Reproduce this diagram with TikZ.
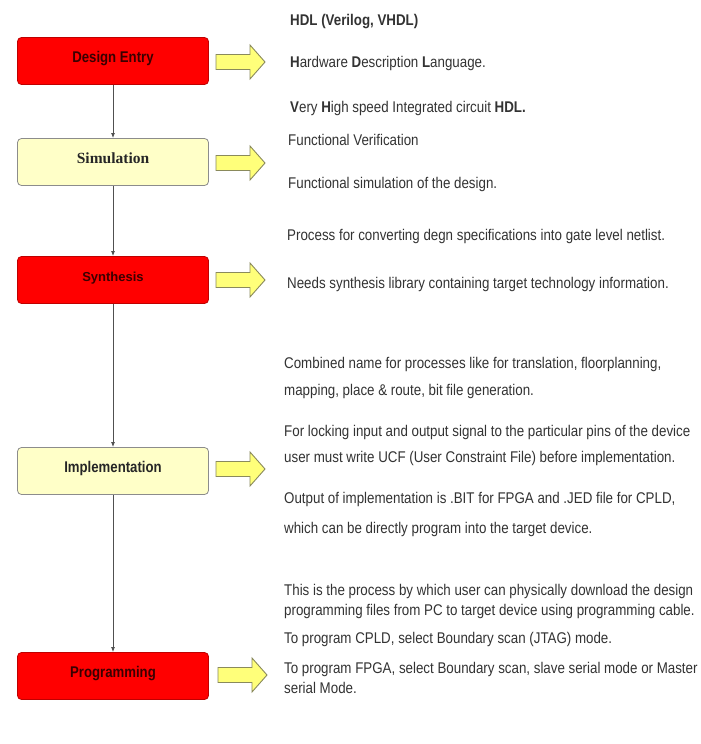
\documentclass[tikz,border=0pt]{standalone}
\usepackage{fontspec}
\setmainfont{Liberation Sans}
\newfontfamily\descfont[FakeStretch=0.86]{Liberation Sans}
\newfontfamily\boxfont[FakeStretch=0.85]{Liberation Sans}
\newfontfamily\serbox{Liberation Serif}
\usetikzlibrary{arrows.meta}
\definecolor{stagered}{HTML}{FF0000}
\definecolor{stagecream}{HTML}{FFFFC8}
\definecolor{arrowfill}{HTML}{FFFF7A}
\definecolor{arrowedge}{HTML}{8A8A5C}
\definecolor{labeldark}{HTML}{3A0000}
\definecolor{linkgrey}{HTML}{505050}
\tikzset{
  stage/.style={rounded corners=4pt, minimum width=191pt, minimum height=47pt,
    inner sep=0pt, text height=11pt, text depth=9pt, line width=0.8pt},
  hotstage/.style={stage, fill=stagered, draw=red!75!black, text=labeldark,
    font=\boxfont\bfseries\fontsize{15.5}{17}\selectfont},
  calmstage/.style={stage, fill=stagecream, draw=black!45, text=black!85,
    font=\boxfont\bfseries\fontsize{15.5}{17}\selectfont},
  link/.style={draw=linkgrey, line width=0.9pt, -{Latex[length=5pt,width=4pt]}},
  blockarrow/.style={fill=arrowfill, draw=arrowedge, line width=0.9pt, line join=miter},
  note/.style={anchor=base west, inner sep=0pt, text=black!80,
    font=\descfont\fontsize{15.5}{17}\selectfont},
}
\newcommand{\fatarrow}[2]{%
  \draw[blockarrow, shift={(#1,#2)}]
    (0,-7.5) -- (34,-7.5) -- (34,-17) -- (49,0) -- (34,17) -- (34,7.5) -- (0,7.5) -- cycle;}
\begin{document}
\begin{tikzpicture}[x=1pt, y=-1pt]
  \useasboundingbox (0,0) rectangle (701,744);
  \fill[white] (0,0) rectangle (701,744);

  % process stages
  \node[hotstage]  (entry) at (113,61)  {Design Entry};
  \node[calmstage, font=\serbox\bfseries\fontsize{15.5}{17}\selectfont] (sim) at (113,162) {Simulation};
  \node[hotstage, font=\bfseries\fontsize{13}{15}\selectfont] (synth) at (113,280) {Synthesis};
  \node[calmstage] (impl)  at (113,471) {Implementation};
  \node[hotstage]  (prog)  at (113,676) {Programming};

  % flow between stages
  \draw[link] (entry.south) -- (sim.north);
  \draw[link] (sim.south) -- (synth.north);
  \draw[link] (synth.south) -- (impl.north);
  \draw[link] (impl.south) -- (prog.north);

  % pointers to the descriptions
  \fatarrow{216}{62}
  \fatarrow{216}{163}
  \fatarrow{216}{280}
  \fatarrow{216}{469}
  \fatarrow{218}{675}

  % descriptions
  \node[note] (t1)  at (290,25)  {\bfseries HDL (Verilog, VHDL)};
  \node[note] (t2)  at (290,67)  {\textbf{H}ardware \textbf{D}escription \textbf{L}anguage.};
  \node[note] (t3)  at (290,112) {\textbf{V}ery \textbf{H}igh speed Integrated circuit \textbf{HDL.}};
  \node[note] (t4)  at (288,145) {Functional Verification};
  \node[note] (t5)  at (288,188) {Functional simulation of the design.};
  \node[note] (t6)  at (287,240) {Process for converting degn specifications into gate level netlist.};
  \node[note] (t7)  at (287,288) {Needs synthesis library containing target technology information.};
  \node[note] (t8)  at (284,368) {Combined name for processes like for translation, floorplanning,};
  \node[note] (t9)  at (284,395) {mapping, place \& route, bit file generation.};
  \node[note] (t10) at (284,436) {For locking input and output signal to the particular pins of the device};
  \node[note] (t11) at (284,462) {user must write UCF (User Constraint File) before implementation.};
  \node[note] (t12) at (284,503) {Output of implementation is .BIT for FPGA and .JED file for CPLD,};
  \node[note] (t13) at (284,533) {which can be directly program into the target device.};
  \node[note] (t14) at (284,595) {This is the process by which user can physically download the design};
  \node[note] (t15) at (284,615) {programming files from PC to target device using programming cable.};
  \node[note] (t16) at (284,643) {To program CPLD, select Boundary scan (JTAG) mode.};
  \node[note] (t17) at (284,673) {To program FPGA, select Boundary scan, slave serial mode or Master};
  \node[note] (t18) at (284,693) {serial Mode.};
\end{tikzpicture}
\end{document}
